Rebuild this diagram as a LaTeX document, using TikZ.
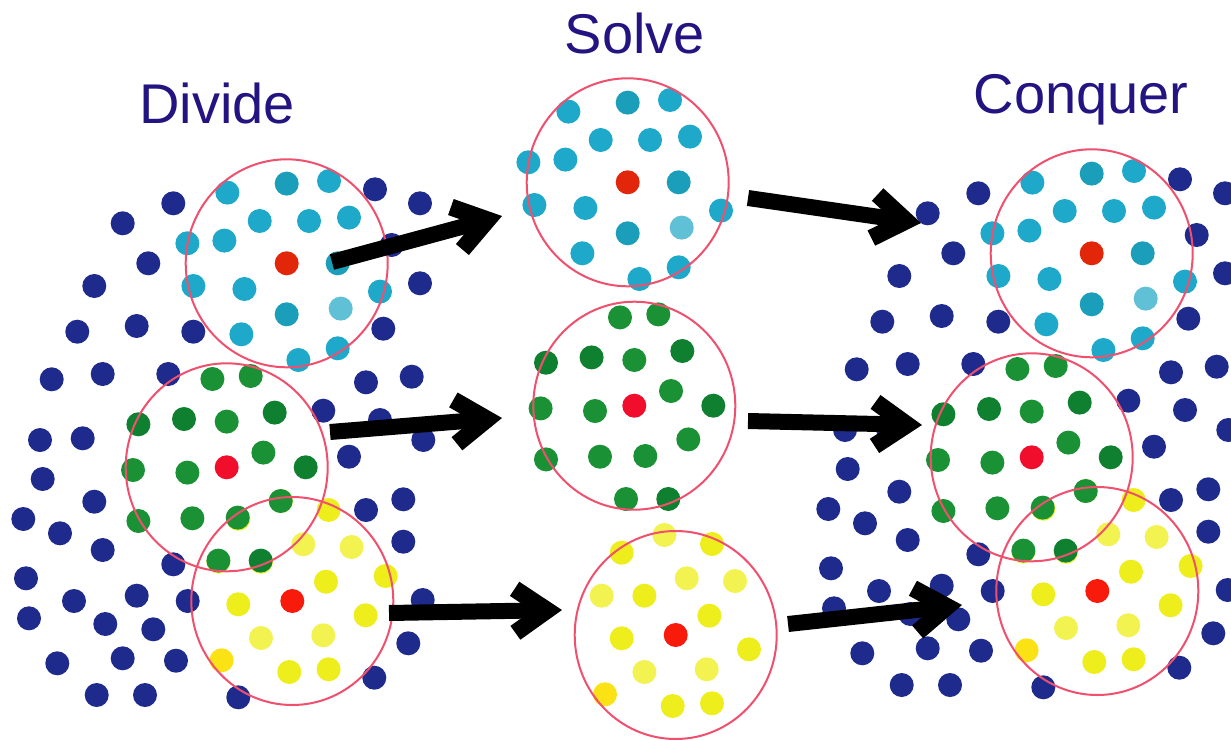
\documentclass[tikz,border=0pt]{standalone}
\usepackage{fontspec}
\setmainfont{Liberation Sans}
\usetikzlibrary{arrows.meta}

\definecolor{navy}{RGB}{30,42,140}
\definecolor{titleblue}{RGB}{35,20,130}
\definecolor{cyanA}{RGB}{30,168,202}
\definecolor{cyanB}{RGB}{26,158,186}
\definecolor{cyanL}{RGB}{96,192,214}
\definecolor{greenA}{RGB}{25,145,52}
\definecolor{greenB}{RGB}{14,128,48}
\definecolor{yellowA}{RGB}{238,238,28}
\definecolor{yellowL}{RGB}{242,242,80}
\definecolor{goldA}{RGB}{250,226,20}
\definecolor{ringred}{RGB}{240,80,110}
\definecolor{redA}{RGB}{226,38,10}
\definecolor{redB}{RGB}{240,14,44}
\definecolor{redC}{RGB}{248,26,10}

\tikzset{
  ringline/.style={draw=ringred, line width=2},
  title/.style={text=titleblue, font=\fontsize{56}{60}\selectfont, anchor=base, inner sep=0},
  bigarrow/.style={line width=16pt, -{Straight Barb[length=32pt, width=44pt, line width=17pt, line join=miter]}}
}

% one group of dots, red dot at (0,0)
\newcommand{\cyanpart}{%
  \foreach \x/\y in {-59.3/-70.7, 42.3/-82.3, -27/-42.3, 22.3/-42.3, 62.3/-45.7,
    -99.3/-20, -62.3/-22.7, -93.3/22.7, -42.3/25.7, 93.3/28.3, -45.3/71,
    11.7/96.7, 51/85}
    \fill[cyanA] (\x,\y) circle[radius=12];
  \foreach \x/\y in {0/-79.7, 51/0, 0/51}
    \fill[cyanB] (\x,\y) circle[radius=12];
  \fill[cyanL] (54,45.3) circle[radius=12];
  \fill[redA] (0,0) circle[radius=12];
  \draw[ringline] (0,0) ellipse[x radius=101, y radius=104];
}
\newcommand{\greenpart}{%
  \foreach \x/\y in {-14.3/-88.3, 24/-91.3, 0/-45.7, -93.7/2.7, -39.3/5.3,
    36.7/-14.7, 54/33.7, -88.3/53.7, -34.3/51, 11/50.3, -8.3/93.3}
    \fill[greenA] (\x,\y) circle[radius=12];
  \foreach \x/\y in {-88.3/-43, -42.7/-48.3, 48/-54.7, 79/0, 34/93.3}
    \fill[greenB] (\x,\y) circle[radius=12];
  \fill[redB] (0,0) circle[radius=12];
  \draw[ringline] (0,0) ellipse[x radius=101, y radius=104];
}
\newcommand{\yellowdots}{%
  \foreach \x/\y in {-54/-82.3, 36.3/-91, -31.3/-39.3, 33.7/-19.3, -54/3.3,
    73.3/14.3, -3/71, 36.3/68.3}
    \fill[yellowA] (\x,\y) circle[radius=12];
  \foreach \x/\y in {-11.3/-100, -74/-39.3, 11/-56.7, 59.3/-54, -31.3/37, 31/34.3}
    \fill[yellowL] (\x,\y) circle[radius=12];
  \fill[goldA] (-70.7,59.3) circle[radius=12];
  \fill[redC] (0,0) circle[radius=12];
}
\newcommand{\yellowring}{\draw[ringline] (0,0) ellipse[x radius=101, y radius=104];}

% the whole crowd on the left
\newcommand{\crowd}{%
  \foreach \x/\y in {173.3/203.3, 122.7/223.3, 375/189.3, 420/203.3, 148.3/263.3,
    94.3/286, 391.7/245, 420/283.3, 77.3/331.7, 136.7/326, 193.3/331.7,
    383.3/328.7, 51.7/379.3, 102.7/374, 168.3/374, 366/382.3, 411.7/376.7,
    323.3/410.7, 380/420, 423.3/440, 40/440, 82.7/438.3, 349/456.7, 42.7/479,
    94.3/501.7, 23.3/519, 60/533.3, 102.7/550, 173.3/564.3, 26/578.3, 74/601,
    136.7/595.7, 187.7/601, 29/618.3, 105.3/624, 153.3/629.3, 57.3/663.3,
    122.7/658.3, 176/660.7, 96.7/695, 145/695, 238.3/697.3, 366/510,
    403.3/499.3, 403.3/541.7, 422.7/600, 408.3/643.3, 374.3/677.7}
    \fill[navy] (\x,\y) circle[radius=12];
  \begin{scope}[shift={(292.3,601)}]
    \yellowdots
    \fill[yellowA] (93.3,-25) circle[radius=12];
  \end{scope}
  \begin{scope}[shift={(226.7,467.3)}]\greenpart\end{scope}
  \begin{scope}[shift={(292.3,601)}]\yellowring\end{scope}
  \begin{scope}[shift={(286.7,263.3)}]\cyanpart\end{scope}
}

\begin{document}
\begin{tikzpicture}[x=1pt, y=-1pt]
\useasboundingbox (0,0) rectangle (1231,739);
\fill[white] (0,0) rectangle (1231,739);
\clip (0,0) rectangle (1231,739);

% divide
\crowd
% solve
\begin{scope}[shift={(627.7,182.3)}]\cyanpart\end{scope}
\begin{scope}[shift={(634.3,405.7)}]\greenpart\end{scope}
\begin{scope}[shift={(675.7,635)}]\yellowdots\yellowring\end{scope}
% conquer
\begin{scope}[shift={(805,-10)}]\crowd\end{scope}

\node[title] (divide) at (217,123.3) {Divide};
\node[title] (solve) at (635,53.3) {Solve};
\node[title] (conquer) at (1081,113.3) {Conquer};

\coordinate (d1) at (332,262);
\coordinate (s1) at (502,216);
\coordinate (d2) at (330,432);
\coordinate (s2) at (502,418);
\coordinate (d3) at (389,613);
\coordinate (s3) at (562,610);
\coordinate (t1) at (748,198);
\coordinate (c1) at (921,223);
\coordinate (t2) at (748,421);
\coordinate (c2) at (922,425);
\coordinate (t3) at (788,624);
\coordinate (c3) at (962,605);

\draw[bigarrow] (d1) -- (s1);
\draw[bigarrow] (d2) -- (s2);
\draw[bigarrow] (d3) -- (s3);
\draw[bigarrow] (t1) -- (c1);
\draw[bigarrow] (t2) -- (c2);
\draw[bigarrow] (t3) -- (c3);
\end{tikzpicture}
\end{document}
